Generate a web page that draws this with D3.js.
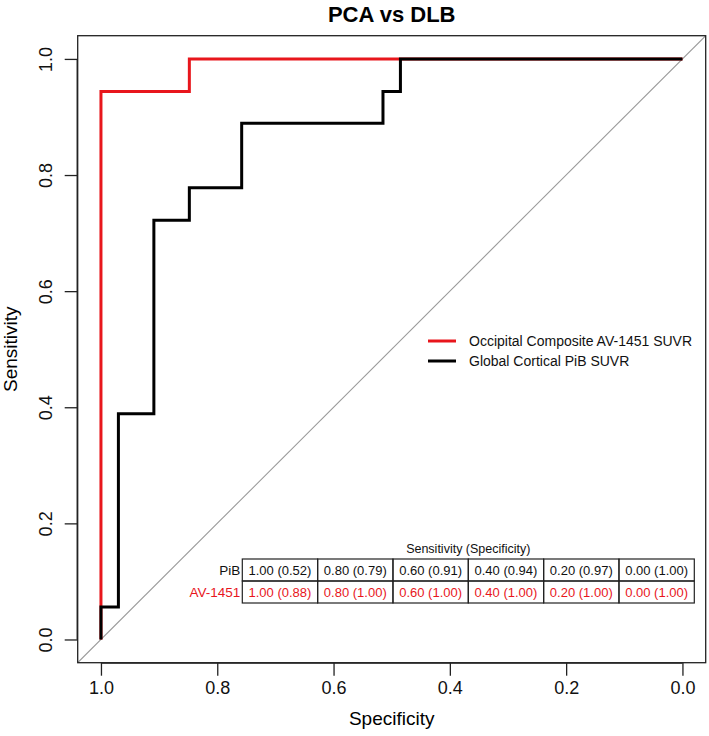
<!DOCTYPE html>
<html>
<head>
<meta charset="utf-8">
<script src="https://cdn.jsdelivr.net/npm/d3@7"></script>
<style>
  html, body { margin: 0; padding: 0; background: #fff; }
  svg { display: block; font-family: "Liberation Sans", Arial, sans-serif; }
</style>
</head>
<body>
<div id="chart"></div>
<script>
// ---------- data ----------
const titleText = "PCA vs DLB";
const xTicks = [1.0, 0.8, 0.6, 0.4, 0.2, 0.0];
const yTicks = [0.0, 0.2, 0.4, 0.6, 0.8, 1.0];

// AV-1451 ROC curve vertices (specificity, sensitivity)
const avSpec = [1.000, 1.000, 0.848, 0.848, 0.000];
const avSens = [0.000, 0.944, 0.944, 1.000, 1.000];

// PiB ROC curve vertices (specificity, sensitivity)
const pibSpec = [1.000, 1.000, 0.970, 0.970, 0.909, 0.909, 0.848, 0.848, 0.758, 0.758, 0.515, 0.515, 0.485, 0.485, 0.000];
const pibSens = [0.000, 0.056, 0.056, 0.389, 0.389, 0.722, 0.722, 0.778, 0.778, 0.889, 0.889, 0.944, 0.944, 1.000, 1.000];

const legendLabels = ["Occipital Composite AV-1451 SUVR", "Global Cortical PiB SUVR"];

const tableHeader = "Sensitivity (Specificity)";
const tableRowLabels = ["PiB", "AV-1451"];
const tableSens = ["1.00", "0.80", "0.60", "0.40", "0.20", "0.00"];
const pibSpecAtSens = ["0.52", "0.79", "0.91", "0.94", "0.97", "1.00"];
const avSpecAtSens = ["0.88", "1.00", "1.00", "1.00", "1.00", "1.00"];

// ---------- layout ----------
const W = 709, H = 736;
const RED = "#e8161c";
const box = { left: 77.7, right: 705.7, top: 35.7, bottom: 662.7 };
const padX = (box.right - box.left) * 0.04 / 1.08;
const padY = (box.bottom - box.top) * 0.04 / 1.08;

const x = d3.scaleLinear().domain([1, 0]).range([box.left + padX, box.right - padX]);
const y = d3.scaleLinear().domain([0, 1]).range([box.bottom - padY, box.top + padY]);

const svg = d3.select("#chart").append("svg").attr("width", W).attr("height", H);

svg.append("defs").append("clipPath").attr("id", "clip")
  .append("rect").attr("x", box.left).attr("y", box.top)
  .attr("width", box.right - box.left).attr("height", box.bottom - box.top);

// title
svg.append("text").attr("x", (box.left + box.right) / 2).attr("y", 22)
  .attr("text-anchor", "middle").attr("font-size", 22).attr("font-weight", "bold")
  .text(titleText);

// diagonal reference line (spanning whole box)
const ext = 0.1;
svg.append("line").attr("clip-path", "url(#clip)")
  .attr("x1", x(1 + ext)).attr("y1", y(-ext))
  .attr("x2", x(-ext)).attr("y2", y(1 + ext))
  .attr("stroke", "#9a9a9a").attr("stroke-width", 1.1);

// curves
const line = d3.line().x(d => x(d[0])).y(d => y(d[1]));
const avPts = avSpec.map((s, i) => [s, avSens[i]]);
const pibPts = pibSpec.map((s, i) => [s, pibSens[i]]);

svg.append("path").datum(avPts).attr("d", line)
  .attr("fill", "none").attr("stroke", RED).attr("stroke-width", 3)
  .attr("stroke-linejoin", "miter");
svg.append("path").datum(pibPts).attr("d", line)
  .attr("fill", "none").attr("stroke", "#000").attr("stroke-width", 3)
  .attr("stroke-linejoin", "miter");

// box
svg.append("rect").attr("x", box.left).attr("y", box.top)
  .attr("width", box.right - box.left).attr("height", box.bottom - box.top)
  .attr("fill", "none").attr("stroke", "#222").attr("stroke-width", 1.3);

// axes
const xAxis = d3.axisBottom(x).tickValues(xTicks).tickFormat(d3.format(".1f"))
  .tickSize(13).tickPadding(6);
const gx = svg.append("g").attr("transform", `translate(0,${box.bottom})`).call(xAxis);
gx.select(".domain").attr("d", `M${x(1)},0.5H${x(0)}`).attr("stroke", "#222").attr("stroke-width", 1.3);
gx.selectAll(".tick line").attr("stroke", "#222").attr("stroke-width", 1.3);
gx.selectAll(".tick text").attr("font-size", 18).attr("fill", "#111")
  .attr("font-family", "Liberation Sans, Arial, sans-serif");

const yAxis = d3.axisLeft(y).tickValues(yTicks).tickFormat(d3.format(".1f"))
  .tickSize(13).tickPadding(6);
const gy = svg.append("g").attr("transform", `translate(${box.left},0)`).call(yAxis);
gy.select(".domain").attr("d", `M-0.5,${y(0)}V${y(1)}`).attr("stroke", "#222").attr("stroke-width", 1.3);
gy.selectAll(".tick line").attr("stroke", "#222").attr("stroke-width", 1.3);
gy.selectAll(".tick text")
  .attr("font-size", 18).attr("fill", "#111")
  .attr("font-family", "Liberation Sans, Arial, sans-serif")
  .attr("x", null).attr("dy", null)
  .attr("text-anchor", "middle")
  .attr("transform", "translate(-30,0) rotate(-90)")
  .attr("dominant-baseline", "middle");

// axis titles
svg.append("text").attr("x", (box.left + box.right) / 2).attr("y", 725)
  .attr("text-anchor", "middle").attr("font-size", 19).text("Specificity");
svg.append("text").attr("transform", `translate(17,${(box.top + box.bottom) / 2}) rotate(-90)`)
  .attr("text-anchor", "middle").attr("font-size", 19).text("Sensitivity");

// legend
const legColors = [RED, "#000"];
const legY0 = 341, legDy = 20;
legendLabels.forEach((lab, i) => {
  const yy = legY0 + i * legDy;
  svg.append("line").attr("x1", 428).attr("x2", 456).attr("y1", yy).attr("y2", yy)
    .attr("stroke", legColors[i]).attr("stroke-width", 3);
  svg.append("text").attr("x", 469).attr("y", yy).attr("dy", "0.35em")
    .attr("font-size", 14).attr("fill", "#111").text(lab);
});

// table
const tLeft = 242.3, tRight = 694.3, tTop = 559, rowH = 22;
const colX = d3.scaleBand().domain(d3.range(tableSens.length)).range([tLeft, tRight]);
svg.append("text").attr("x", (tLeft + tRight) / 2).attr("y", tTop - 6)
  .attr("text-anchor", "middle").attr("font-size", 12.5).attr("fill", "#111").text(tableHeader);

const rows = [
  { label: tableRowLabels[0], spec: pibSpecAtSens, color: "#111" },
  { label: tableRowLabels[1], spec: avSpecAtSens, color: RED }
];
rows.forEach((r, ri) => {
  const ry = tTop + ri * rowH;
  svg.append("text").attr("x", tLeft - 2).attr("y", ry + rowH / 2).attr("dy", "0.35em")
    .attr("text-anchor", "end").attr("font-size", 13.5).attr("fill", r.color).text(r.label);
  tableSens.forEach((s, ci) => {
    svg.append("rect").attr("x", colX(ci)).attr("y", ry)
      .attr("width", colX.bandwidth()).attr("height", rowH)
      .attr("fill", "none").attr("stroke", "#222").attr("stroke-width", 1.2);
    svg.append("text").attr("x", colX(ci) + colX.bandwidth() / 2).attr("y", ry + rowH / 2)
      .attr("dy", "0.35em").attr("text-anchor", "middle").attr("font-size", 13)
      .attr("fill", r.color).text(`${s} (${r.spec[ci]})`);
  });
});
</script>
</body>
</html>
